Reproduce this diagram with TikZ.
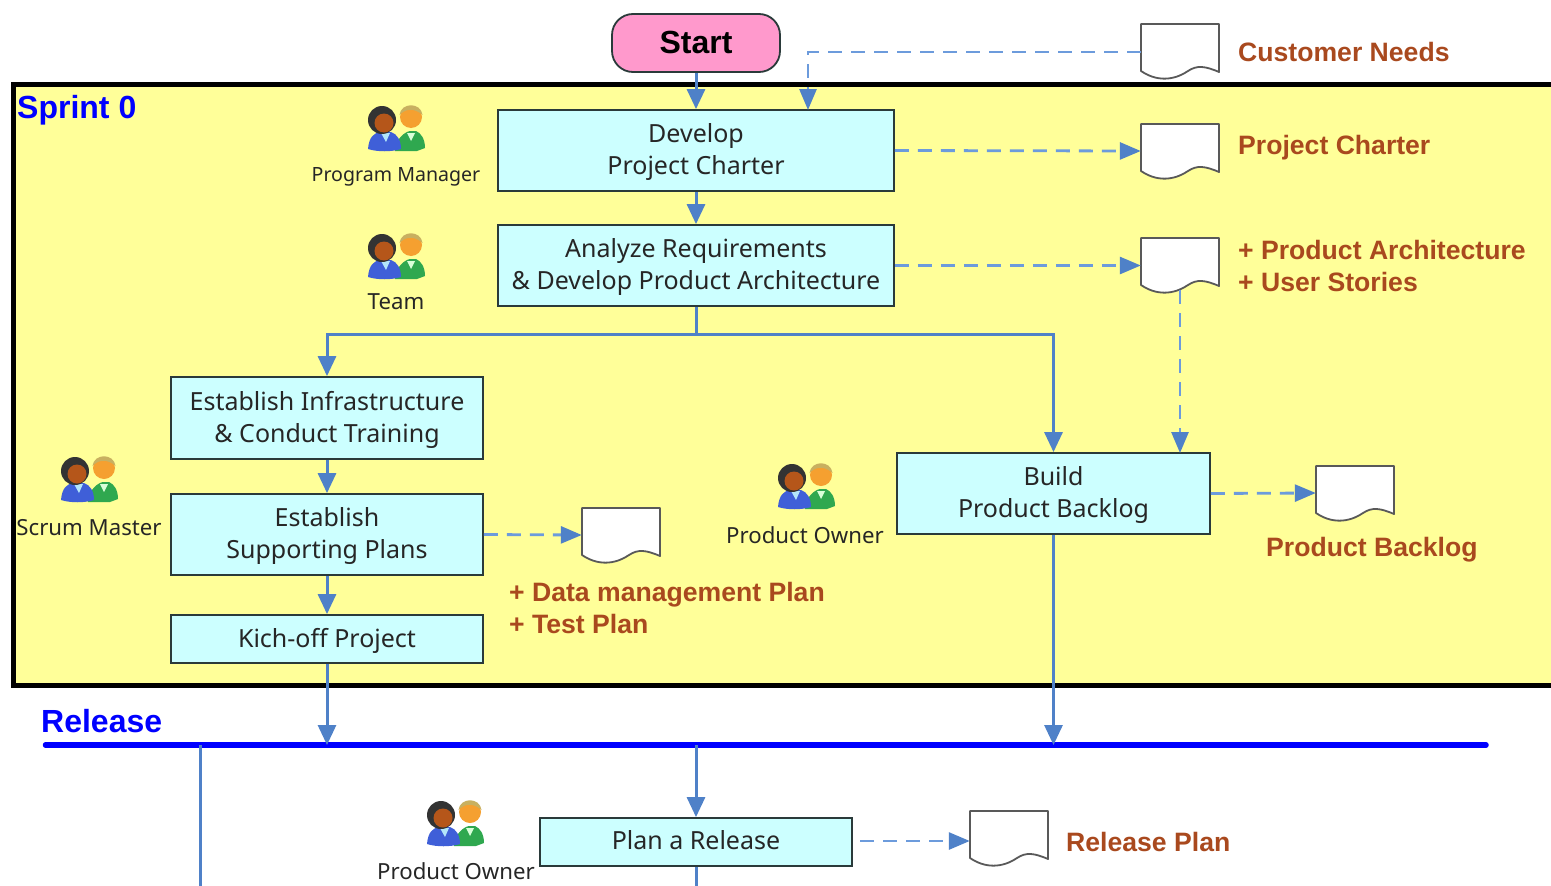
\documentclass[tikz,border=0pt]{standalone}
\usepackage{fontspec}
\setmainfont{Noto Sans}
\newfontfamily\lblfont{Liberation Sans}
\usetikzlibrary{arrows.meta,positioning,calc}
\definecolor{frameyellow}{HTML}{FFFF99}
\definecolor{boxcyan}{HTML}{CCFFFF}
\definecolor{startpink}{HTML}{FF99CC}
\definecolor{flow}{HTML}{4F81C8}
\definecolor{dashflow}{HTML}{6C9BDC}
\definecolor{outlabel}{HTML}{A9491E}
\definecolor{boxline}{HTML}{2A3A3A}
\definecolor{inktext}{HTML}{262626}
\definecolor{releaseblue}{HTML}{0000FF}
\definecolor{pblue}{HTML}{3F5FD8}
\definecolor{pgreen}{HTML}{2FA84F}
\definecolor{pface}{HTML}{B5561A}
\definecolor{phead}{HTML}{F5A030}
\definecolor{phair}{HTML}{C8B060}
\tikzset{
  x=1pt,y=-1pt,
  procbox/.style={draw=boxline,line width=1.8pt,fill=boxcyan,text=inktext,inner sep=0pt,align=center,
    font=\fontsize{25}{32}\selectfont},
  startshape/.style={procbox,fill=startpink,rounded corners=21pt,text=black,font=\lblfont\fontsize{32}{36}\selectfont\bfseries},
  doc/.style={minimum width=78pt,minimum height=54pt,inner sep=0pt},
  flowline/.style={draw=flow,line width=3pt},
  flowarrow/.style={flowline,-{Triangle[length=20pt,width=18pt]}},
  dasharrow/.style={draw=dashflow,line width=2.8pt,dash pattern=on 14pt off 9pt,-{Triangle[length=21pt,width=17pt,color=flow]}},
  rolelabel/.style={text=inktext,inner sep=0pt,font=\fontsize{22.2}{26}\selectfont},
  rolesmall/.style={rolelabel,font=\fontsize{19.6}{26}\selectfont},
  outlab/.style={text=outlabel,inner sep=0pt,align=left,anchor=west,font=\lblfont\fontsize{26.6}{32}\selectfont\bfseries},
  phase/.style={text=releaseblue,inner sep=0pt,anchor=west,font=\lblfont\fontsize{32}{36}\selectfont\bfseries},
  people/.pic={
    \fill[pgreen] (-2,24) .. controls (-1,11) and (8,5) .. (13,4) -- (19,4) .. controls (24,6) and (28,12) .. (28,21) -- (20,24) -- cycle;
    \fill[white!85!green] (10,6) -- (18,6) -- (14,14) -- cycle;
    \fill[phead] (14,-10) circle[radius=11];
    \fill[phair] (2.5,-12) .. controls (4,-25) and (24,-25) .. (25.5,-12) .. controls (18,-19) and (9,-19) .. (2.5,-12) -- cycle;
    \fill[pblue] (-29,22) .. controls (-28,10) and (-23,6) .. (-17,5) -- (-6,5) .. controls (0,7) and (4,13) .. (4,22) .. controls (-5,25) and (-20,25) .. (-29,22) -- cycle;
    \fill[cyan!30!white] (-16,6) -- (-7,6) -- (-11,15) -- cycle;
    \fill[black!80] (-15,-7) circle[radius=14];
    \fill[pface] (-13,-4) circle[radius=9.5];
  },
  wavedoc/.pic={
    \draw[draw=black!65,line width=1.8pt,fill=white,line join=round]
      (-39,-27) -- (39,-27) -- (39,21)
      .. controls (25,15) and (17,14) .. (8,20)
      .. controls (-2,27) and (-20,33) .. (-39,20) -- cycle;
  },
}
\newcommand{\stepnode}[7][-8pt]{\node[#2,minimum width=#5pt,minimum height=#6pt] (#3) at (#4) {\raisebox{#1}[0pt][0pt]{\begin{tabular}{@{}c@{}}#7\end{tabular}}};}
\begin{document}
\begin{tikzpicture}
\useasboundingbox (0,0) rectangle (1551,886);

% Sprint 0 frame
\fill[frameyellow] (13.5,84.5) rectangle (1551,685.5);
\draw[black,line width=5pt,line join=miter] (1551,84.5) -- (13.5,84.5) -- (13.5,685.5) -- (1551,685.5);
\node[phase] (sprint) at (17,110) {Sprint 0};

% Release bar
\coordinate (relL) at (45.5,745);
\coordinate (relR) at (1486,745);
\draw[releaseblue,line width=5.5pt,line cap=round] (relL) -- (relR);
\node[phase] (release) at (41,721) {Release};

% Process boxes
\stepnode[-10pt]{startshape}{start}{696,43}{168}{58}{Start}
\stepnode{procbox}{develop}{696,150.5}{396}{81}{Develop\\Project Charter}
\stepnode{procbox}{analyze}{696,265.5}{396}{81}{Analyze Requirements\\\& Develop Product Architecture}
\stepnode{procbox}{infra}{327,418}{312}{82}{Establish Infrastructure\\\& Conduct Training}
\stepnode{procbox}{plans}{327,534.5}{312}{81}{Establish\\Supporting Plans}
\stepnode{procbox}{kick}{327,639}{312}{48}{Kich-off Project}
\stepnode{procbox}{backlog}{1053.5,493.5}{313}{81}{Build\\Product Backlog}
\stepnode[-7pt]{procbox}{planrel}{696,842}{312}{48}{Plan a Release}

% Documents
\pic at (1180,51) {wavedoc};  \node[doc] (dneeds) at (1180,52) {};
\pic at (1180,151) {wavedoc}; \node[doc] (dcharter) at (1180,151) {};
\pic at (1180,265) {wavedoc}; \node[doc] (darch) at (1180,265) {};
\pic at (1355,493) {wavedoc}; \node[doc] (dback) at (1355,493) {};
\pic at (621,535) {wavedoc};  \node[doc] (ddata) at (621,535) {};
\pic at (1009,838) {wavedoc}; \node[doc] (drel) at (1009,838) {};

% Output labels
\node[outlab] (lneeds) at (1238,52) {Customer Needs};
\node[outlab] (lcharter) at (1238,148) {Project Charter};
\node[outlab] (larch) at (1238,266) {+ Product Architecture\\+ User Stories};
\node[outlab] (lback) at (1266,550) {Product Backlog};
\node[outlab] (ldata) at (509,608) {+ Data management Plan\\+ Test Plan};
\node[outlab] (lrel) at (1066,842) {Release Plan};

% People
\pic at (397,127) {people};
\node[rolesmall] (rpm) at (396,177) {Program Manager};
\pic at (397,255) {people};
\node[rolelabel] (rteam) at (396,302) {Team};
\pic at (90,478) {people};
\node[rolelabel] (rsm) at (89,528) {Scrum Master};
\pic at (807,485) {people};
\node[rolelabel] (rpo) at (805,535) {Product Owner};
\pic at (456,822) {people};
\node[rolelabel] (rpo2) at (456,871) {Product Owner};

% Helper coordinates
\coordinate (needsx) at (808,110);
\coordinate (split) at (696,334);
\coordinate (relA) at (200,745);
\coordinate (relB) at (696,745);
\coordinate (downA) at (200,886);
\coordinate (downB) at (696,886);
\coordinate (archS) at (1180,290);
\coordinate (archE) at (1180,453);
\coordinate (planE) at (860,841);

% Solid connectors
\draw[flowarrow] (start.south) -- (develop.north);
\draw[flowarrow] (develop.south) -- (analyze.north);
\draw[flowline] (analyze.south) -- (split);
\draw[flowarrow] (split) -| (infra.north);
\draw[flowarrow] (split) -| (backlog.north);
\draw[flowarrow] (infra.south) -- (plans.north);
\draw[flowarrow] (plans.south) -- (kick.north);
\draw[flowarrow] (kick.south) -- (kick.south |- relL);
\draw[flowarrow] (backlog.south) -- (backlog.south |- relL);
\draw[flowarrow] (relB) -- (planrel.north);
\draw[flowline] (planrel.south) -- (downB);
\draw[flowline] (relA) -- (downA);

% Dashed connectors
\draw[dasharrow] (dneeds.west) -| (needsx);
\draw[dasharrow] (develop.east) -- (dcharter.west);
\draw[dasharrow] (analyze.east) -- (darch.west |- analyze.east);
\draw[dasharrow] (archS) -- (archE);
\draw[dasharrow] (backlog.east) -- (dback.west);
\draw[dasharrow] (plans.east) -- (ddata.west);
\draw[dasharrow] (planE) -- (drel.west |- planE);
\end{tikzpicture}
\end{document}
